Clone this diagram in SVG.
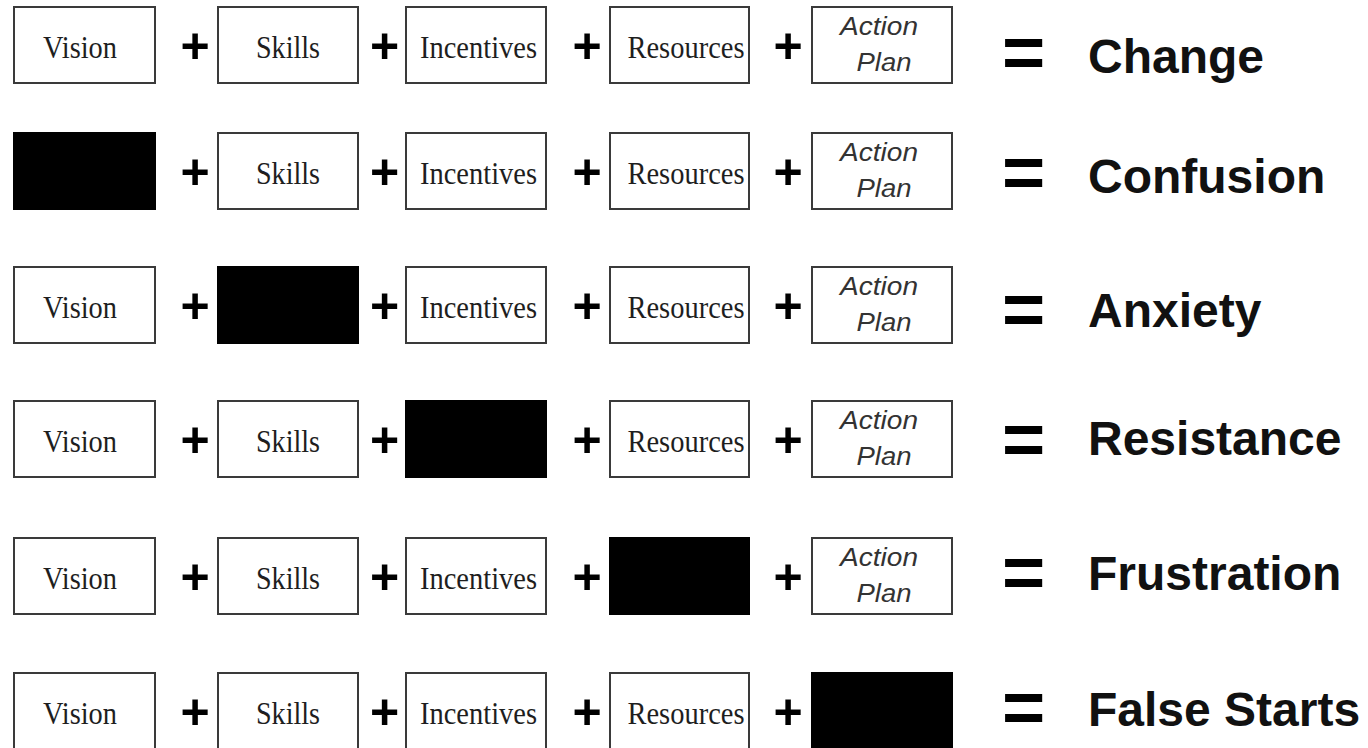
<svg xmlns="http://www.w3.org/2000/svg" width="1368" height="748" viewBox="0 0 1368 748">
<style>
.box{fill:#fff;stroke:#3a3a3a;stroke-width:2}
.blk{fill:#000;stroke:#000;stroke-width:2}
.s{font-family:"Liberation Serif","Times New Roman",serif;font-size:31px;fill:#1e1e1e;text-anchor:middle}
.a{font-family:"Liberation Sans",Arial,sans-serif;font-style:italic;font-size:25px;fill:#333;text-anchor:middle}
.op{font-family:"Liberation Sans",Arial,sans-serif;font-weight:bold;fill:#000;text-anchor:middle}
.plus{font-size:50px}
.eq{font-size:74px}
.lbl{font-family:"Liberation Sans",Arial,sans-serif;font-weight:bold;font-size:48px;fill:#111}
</style>
<rect width="1368" height="748" fill="#fff"/>

<!-- Row 1 -->
<g id="r1-vision"><rect class="box" x="14" y="7" width="141" height="76"/><text class="s" x="80" y="58" textLength="74" lengthAdjust="spacingAndGlyphs">Vision</text></g>
<g id="r1-skills"><rect class="box" x="218" y="7" width="140" height="76"/><text class="s" x="288" y="58" textLength="64" lengthAdjust="spacingAndGlyphs">Skills</text></g>
<g id="r1-incentives"><rect class="box" x="406" y="7" width="140" height="76"/><text class="s" x="478.5" y="58" textLength="117" lengthAdjust="spacingAndGlyphs">Incentives</text></g>
<g id="r1-resources"><rect class="box" x="610" y="7" width="139" height="76"/><text class="s" x="686" y="58" textLength="117" lengthAdjust="spacingAndGlyphs">Resources</text></g>
<g id="r1-action"><rect class="box" x="812" y="7" width="140" height="76"/><text class="a" x="879" y="35" textLength="78" lengthAdjust="spacingAndGlyphs">Action</text><text class="a" x="884" y="71" textLength="55" lengthAdjust="spacingAndGlyphs">Plan</text></g>
<g id="r1-result"><text class="lbl" x="1088" y="73">Change</text></g>

<!-- Row 2 -->
<g id="r2-vision"><rect class="blk" x="14" y="133" width="141" height="76"/></g>
<g id="r2-skills"><rect class="box" x="218" y="133" width="140" height="76"/><text class="s" x="288" y="184" textLength="64" lengthAdjust="spacingAndGlyphs">Skills</text></g>
<g id="r2-incentives"><rect class="box" x="406" y="133" width="140" height="76"/><text class="s" x="478.5" y="184" textLength="117" lengthAdjust="spacingAndGlyphs">Incentives</text></g>
<g id="r2-resources"><rect class="box" x="610" y="133" width="139" height="76"/><text class="s" x="686" y="184" textLength="117" lengthAdjust="spacingAndGlyphs">Resources</text></g>
<g id="r2-action"><rect class="box" x="812" y="133" width="140" height="76"/><text class="a" x="879" y="161" textLength="78" lengthAdjust="spacingAndGlyphs">Action</text><text class="a" x="884" y="197" textLength="55" lengthAdjust="spacingAndGlyphs">Plan</text></g>
<g id="r2-result"><text class="lbl" x="1088" y="193">Confusion</text></g>

<!-- Row 3 -->
<g id="r3-vision"><rect class="box" x="14" y="267" width="141" height="76"/><text class="s" x="80" y="318" textLength="74" lengthAdjust="spacingAndGlyphs">Vision</text></g>
<g id="r3-skills"><rect class="blk" x="218" y="267" width="140" height="76"/></g>
<g id="r3-incentives"><rect class="box" x="406" y="267" width="140" height="76"/><text class="s" x="478.5" y="318" textLength="117" lengthAdjust="spacingAndGlyphs">Incentives</text></g>
<g id="r3-resources"><rect class="box" x="610" y="267" width="139" height="76"/><text class="s" x="686" y="318" textLength="117" lengthAdjust="spacingAndGlyphs">Resources</text></g>
<g id="r3-action"><rect class="box" x="812" y="267" width="140" height="76"/><text class="a" x="879" y="295" textLength="78" lengthAdjust="spacingAndGlyphs">Action</text><text class="a" x="884" y="331" textLength="55" lengthAdjust="spacingAndGlyphs">Plan</text></g>
<g id="r3-result"><text class="lbl" x="1088" y="327">Anxiety</text></g>

<!-- Row 4 -->
<g id="r4-vision"><rect class="box" x="14" y="401" width="141" height="76"/><text class="s" x="80" y="452" textLength="74" lengthAdjust="spacingAndGlyphs">Vision</text></g>
<g id="r4-skills"><rect class="box" x="218" y="401" width="140" height="76"/><text class="s" x="288" y="452" textLength="64" lengthAdjust="spacingAndGlyphs">Skills</text></g>
<g id="r4-incentives"><rect class="blk" x="406" y="401" width="140" height="76"/></g>
<g id="r4-resources"><rect class="box" x="610" y="401" width="139" height="76"/><text class="s" x="686" y="452" textLength="117" lengthAdjust="spacingAndGlyphs">Resources</text></g>
<g id="r4-action"><rect class="box" x="812" y="401" width="140" height="76"/><text class="a" x="879" y="429" textLength="78" lengthAdjust="spacingAndGlyphs">Action</text><text class="a" x="884" y="465" textLength="55" lengthAdjust="spacingAndGlyphs">Plan</text></g>
<g id="r4-result"><text class="lbl" x="1088" y="455">Resistance</text></g>

<!-- Row 5 -->
<g id="r5-vision"><rect class="box" x="14" y="538" width="141" height="76"/><text class="s" x="80" y="589" textLength="74" lengthAdjust="spacingAndGlyphs">Vision</text></g>
<g id="r5-skills"><rect class="box" x="218" y="538" width="140" height="76"/><text class="s" x="288" y="589" textLength="64" lengthAdjust="spacingAndGlyphs">Skills</text></g>
<g id="r5-incentives"><rect class="box" x="406" y="538" width="140" height="76"/><text class="s" x="478.5" y="589" textLength="117" lengthAdjust="spacingAndGlyphs">Incentives</text></g>
<g id="r5-resources"><rect class="blk" x="610" y="538" width="139" height="76"/></g>
<g id="r5-action"><rect class="box" x="812" y="538" width="140" height="76"/><text class="a" x="879" y="566" textLength="78" lengthAdjust="spacingAndGlyphs">Action</text><text class="a" x="884" y="602" textLength="55" lengthAdjust="spacingAndGlyphs">Plan</text></g>
<g id="r5-result"><text class="lbl" x="1088" y="590">Frustration</text></g>

<!-- Row 6 -->
<g id="r6-vision"><rect class="box" x="14" y="673" width="141" height="76"/><text class="s" x="80" y="724" textLength="74" lengthAdjust="spacingAndGlyphs">Vision</text></g>
<g id="r6-skills"><rect class="box" x="218" y="673" width="140" height="76"/><text class="s" x="288" y="724" textLength="64" lengthAdjust="spacingAndGlyphs">Skills</text></g>
<g id="r6-incentives"><rect class="box" x="406" y="673" width="140" height="76"/><text class="s" x="478.5" y="724" textLength="117" lengthAdjust="spacingAndGlyphs">Incentives</text></g>
<g id="r6-resources"><rect class="box" x="610" y="673" width="139" height="76"/><text class="s" x="686" y="724" textLength="117" lengthAdjust="spacingAndGlyphs">Resources</text></g>
<g id="r6-action"><rect class="blk" x="812" y="673" width="140" height="76"/></g>
<g id="r6-result"><text class="lbl" x="1088" y="726">False Starts</text></g>

<!-- Operators -->
<g id="connectors">
<g class="op plus">
<text x="195" y="63">+</text><text x="384.5" y="63">+</text><text x="587" y="63">+</text><text x="788" y="63">+</text>
<text x="195" y="189">+</text><text x="384.5" y="189">+</text><text x="587" y="189">+</text><text x="788" y="189">+</text>
<text x="195" y="323">+</text><text x="384.5" y="323">+</text><text x="587" y="323">+</text><text x="788" y="323">+</text>
<text x="195" y="457">+</text><text x="384.5" y="457">+</text><text x="587" y="457">+</text><text x="788" y="457">+</text>
<text x="195" y="594">+</text><text x="384.5" y="594">+</text><text x="587" y="594">+</text><text x="788" y="594">+</text>
<text x="195" y="729">+</text><text x="384.5" y="729">+</text><text x="587" y="729">+</text><text x="788" y="729">+</text>
</g>
<g class="op eq">
<text x="1023.5" y="78">=</text>
<text x="1023.5" y="198">=</text>
<text x="1023.5" y="335">=</text>
<text x="1023.5" y="465">=</text>
<text x="1023.5" y="598">=</text>
<text x="1023.5" y="733">=</text>
</g>
</g>
</svg>
